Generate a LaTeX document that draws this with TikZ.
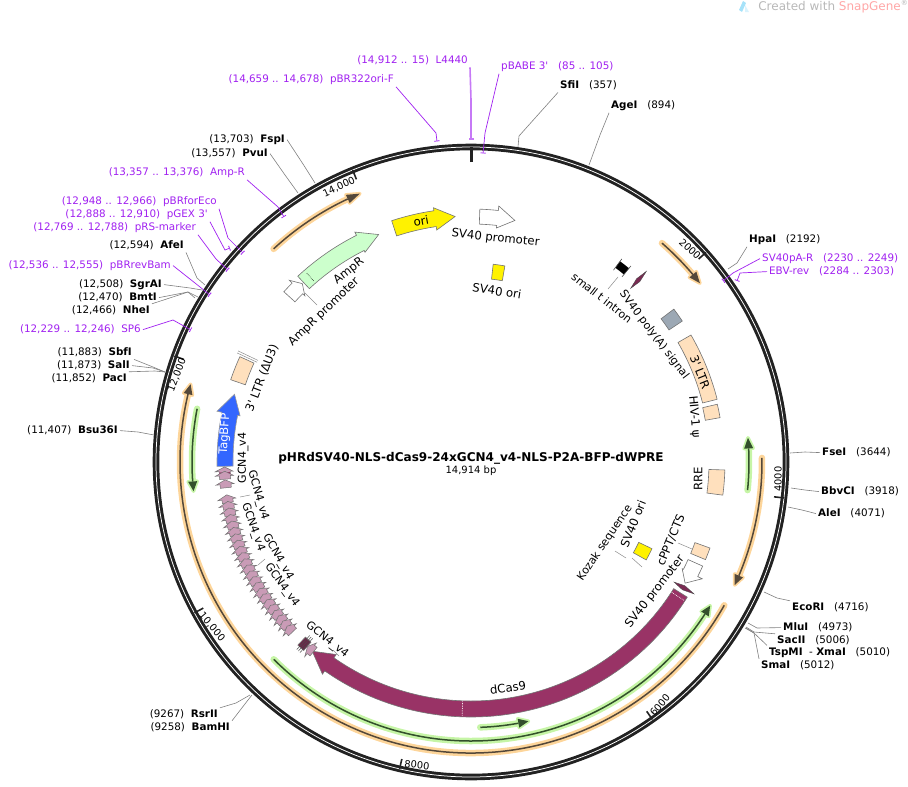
\documentclass[tikz,border=0pt]{standalone}
\usepackage{fontspec}
\setmainfont{DejaVu Sans}[Ligatures=TeXOff]
\usetikzlibrary{arrows.meta}
\definecolor{prm}{HTML}{A020F0}
\definecolor{dcas}{HTML}{993366}
\definecolor{mauve}{HTML}{C99BB6}
\definecolor{peach}{HTML}{FFE0BD}
\definecolor{grayb}{HTML}{9CA8B4}
\definecolor{glowO}{HTML}{FDD59A}
\definecolor{glowG}{HTML}{C6F5A6}
\definecolor{lineO}{HTML}{54483A}
\definecolor{lineG}{HTML}{33502C}
\definecolor{ringc}{HTML}{222222}
\tikzset{
  lab/.style={inner sep=2pt,yshift=-.6pt,font=\fontsize{10.35}{12}\selectfont},
  enz/.style={draw=black!50,line width=.6pt},
  enz-text/.style={text=black},
  prim/.style={draw=prm,line width=.7pt,-{Bar[width=5pt,length=1pt]}},
  prim-text/.style={text=prm},
  primL/.style={draw=prm!60,line width=1.6pt,-{Bar[width=5pt,length=1pt]}},
  primL-text/.style={text=prm},
  flab/.style={inner sep=0pt,font=\fontsize{11.7}{13}\selectfont},
  flabs/.style={inner sep=0pt,font=\fontsize{11}{13}\selectfont},
  tlab/.style={inner sep=0pt,font=\fontsize{9.8}{11}\selectfont},
  feat/.style={draw=black!55,line width=.6pt},
  thinl/.style={draw=black!45,line width=.5pt},
  ticks/.style={draw=ringc,line width=1.6pt}
}
% arrow feature: a1 a2 ahead rin rout wingin wingout style
\newcommand\fArrow[8]{\draw[feat,#8] (#1-90:#4) arc[start angle={#1-90},end angle={#3-90},radius=#4] -- (#3-90:#6) -- (#2-90:{(#4+#5)/2}) -- (#3-90:#7) -- (#3-90:#5) arc[start angle={#3-90},end angle={#1-90},radius=#5] -- cycle;}
% box feature: a1 a2 rin rout style
\newcommand\fBox[5]{\draw[feat,#5] (#1-90:#3) arc[start angle={#1-90},end angle={#2-90},radius=#3] -- (#2-90:#4) arc[start angle={#2-90},end angle={#1-90},radius=#4] -- cycle;}
% lens sliver: angle halfwidth
\newcommand\fLens[2]{\draw[draw=black!70,line width=.4pt,fill=dcas!80!black] (#1-90:236) -- (#1-#2-90:247) -- (#1-90:259) -- (#1+#2-90:247) -- cycle;}
% glowing ORF: a1 a2 aHead r glow line
\newcommand\gArc[6]{%
  \draw[#5,line width=6.5pt,line cap=round] (#1-90:#4) arc[start angle={#1-90},end angle={#3-90},radius=#4];
  \draw[#5,fill=#5,line width=3.5pt,line join=round] (#3-90:#4-4.5) -- (#2-90:#4) -- (#3-90:#4+4.5) -- cycle;
  \draw[#6,line width=1.5pt] (#1-90:#4) arc[start angle={#1-90},end angle={#3-90},radius=#4];
  \fill[#6] (#3-90:#4-4.5) -- (#2-90:#4) -- (#3-90:#4+4.5) -- cycle;}
% label with leader
\newcommand\Lab[8]{%
  \node[lab,anchor=#2,#5-text] (#1) at (#3) {#4};
  \coordinate (#1-k) at (#7);
  \coordinate (#1-e) at (#8);
  \draw[#5] (#1.#6) -- (#1-k) -- (#1-e);}
\newcommand\gcn[1]{\pgfmathsetmacro\ga{#1-1.0}\pgfmathsetmacro\gb{#1+.85}\pgfmathsetmacro\gc{#1-.2}\fArrow{\ga}{\gb}{\gc}{241}{252}{238}{256}{fill=mauve,line width=.5pt}}
\newcommand\spa{\hspace{.64em}}
\newcommand\spb{\hspace{.95em}}
\begin{document}
\begin{tikzpicture}[x=1pt,y=-1pt]
\useasboundingbox (0,0) rectangle (908,787);
% watermark
\fill[cyan!35] (739,10) -- (743,1) -- (746,3) -- (742,12) -- cycle;
\fill[cyan!15] (745,5) -- (749,12) -- (745,12) -- cycle;
\node[anchor=east,inner sep=0pt,text=black!28,font=\fontsize{12}{14}\selectfont] (wm) at (908,7) {Created with \textcolor{red!35}{SnapGene}\raisebox{.45em}{\fontsize{7}{8}\selectfont ®}};
\begin{scope}[shift={(471,462)}]
% ORFs
\gArc{317.2}{337.5}{334.9}{290.5}{glowO}{lineO}
\gArc{41.1}{52}{49.8}{290.5}{glowO}{lineO}
\gArc{89.2}{115}{113}{291}{glowO}{lineO}
\gArc{119.5}{285.5}{283.5}{291}{glowO}{lineO}
\gArc{95.8}{85}{87.2}{278}{glowG}{lineG}
\gArc{225}{121}{123}{279}{glowG}{lineG}
\gArc{178}{167.5}{169.7}{265.5}{glowG}{lineG}
\gArc{281}{264}{266}{279}{glowG}{lineG}
% backbone
\draw[draw=ringc,line width=6.6pt] (0,0) circle[radius=315];
\draw[draw=white,line width=.75pt] (0,0) circle[radius=315];
% ticks
\draw[draw=ringc,line width=3pt] (-90:300) -- (-90:315);
\foreach \t in {2000,4000,6000,8000,10000,12000,14000}{
  \pgfmathsetmacro\ta{\t/14914*360}
  \draw[ticks] (\ta-90:305) -- (\ta-90:315);}
% features
\fArrow{122}{220}{215}{239}{255}{235}{259}{fill=dcas}
\draw[white,densely dotted,line width=.7pt] (182-90:239.5) -- (182-90:254.5);
\draw[white,densely dotted,line width=.7pt] (123-90:239.5) -- (123-90:254.5);
\fArrow{269}{286}{281.3}{238}{254}{235.5}{259}{draw=black!40,fill={rgb,255:red,51;green,102;blue,255}}
\fArrow{317}{337.9}{333.2}{237}{254}{235}{257.6}{fill={rgb,255:red,204;green,255;blue,204}}
\draw[black,densely dotted,line width=.6pt] (319-90:240) -- (319-90:251);
\fArrow{312.3}{316.6}{315}{238}{253}{235}{257}{fill=white}
\fArrow{341.8}{356.3}{351.6}{238}{254}{234.5}{257}{fill=yellow}
\fArrow{2}{10.3}{6.2}{238}{253}{235.4}{257.5}{fill=white}
\fBox{6.4}{9.8}{184}{199}{fill=yellow}
\fBox{115.6}{119.2}{186}{200.7}{fill=yellow}
\fBox{53}{56.3}{238}{254}{fill=grayb}
\fBox{60}{75.7}{239}{254}{fill=peach}
\fBox{76.8}{79.9}{238}{253}{fill=peach}
\fBox{91.8}{97.5}{238}{254}{fill=peach}
\fBox{109.8}{112.6}{238}{254}{fill=peach}
\fArrow{114.2}{119.5}{116.8}{238}{254}{236.6}{259}{fill=white}
\fBox{288.9}{294.5}{238.5}{254}{fill=peach}
\draw[thinl] (295-90:236) -- (295-90:258);
\draw[thinl] (295.5-90:236) -- (295.5-90:258);
% small t intron
\fill[black] (36.6-90:242) arc[start angle=-53.4,end angle=-50.8,radius=242] -- (39.2-90:250) arc[start angle=-50.8,end angle=-53.4,radius=250] -- cycle;
\draw[black!70,line width=.6pt] (36.6-90:239) -- (36.6-90:253);
\draw[black!70,line width=.6pt] (39.2-90:239) -- (39.2-90:253);
% slivers
\fLens{42.6}{.5}
\fLens{120.6}{.55}
% GCN4 repeats
\gcn{268}
\fBox{267}{267.6}{241}{252}{fill=dcas,draw=none}
\gcn{267}
\gcn{265}
\foreach \g in {261.5,259.95,...,226}{\gcn{\g}}
\fBox{221.6}{223.4}{241}{252}{fill=dcas!70!black}
\foreach \g in {221.9,222.4,222.9}{\draw[black!70,line width=.5pt] (\g-90:237) -- (\g-90:256);}
\gcn{220.7}
\end{scope}
% leaders of internal labels
\coordinate (iA) at (618,277); \coordinate (iB) at (608,289);
\draw[thinl] (iA) -- (iB);
\coordinate (iC) at (305,293); \coordinate (iD) at (317,305);
\draw[thinl] (iC) -- (iD);
\coordinate (iE) at (678,543); \coordinate (iF) at (692,549);
\draw[thinl] (iE) -- (iF);
\coordinate (iG) at (615,551); \coordinate (iH) at (626,558);
\draw[thinl] (iG) -- (iH);
\coordinate (iI) at (632,558); \coordinate (iJ) at (642,567);
\draw[thinl] (iI) -- (iJ);
\coordinate (iK) at (240,497); \coordinate (iL) at (250,495);
\draw[thinl] (iK) -- (iL);
\coordinate (iM) at (258,565); \coordinate (iN) at (265,559);
\draw[thinl] (iM) -- (iN);
\coordinate (iO) at (333,650); \coordinate (iP) at (339,656);
\draw[thinl] (iO) -- (iP);
% feature labels
\node[flab,rotate=10] (tOri) at (421,221) {ori};
\node[flab,rotate=-6] (tP1) at (495.5,238.5) {SV40 promoter};
\node[flab,rotate=-9] (tO1) at (497,291) {SV40 ori};
\node[flab,rotate=38] (tAmpR) at (349,271) {AmpR};
\node[flab,rotate=44] (tAmpP) at (324,312) {AmpR promoter};
\node[flab,rotate=69] (tLTR3) at (262,378) {3' LTR (ΔU3)};
\node[flab,rotate=87,text=white] (tBFP) at (225,434) {TagBFP};
\node[flabs,rotate=90] (g1) at (243,458) {GCN4\_v4};
\node[flabs,rotate=-74] (g2) at (258,495) {GCN4\_v4};
\node[flabs,rotate=-71] (g3) at (253,527) {GCN4\_v4};
\node[flabs,rotate=-60] (g4) at (278,557) {GCN4\_v4};
\node[flabs,rotate=-54] (g5) at (282,585) {GCN4\_v4};
\node[flabs,rotate=-38] (g6) at (327,640) {GCN4\_v4};
\node[flab,rotate=8] (tCas) at (508,688) {dCas9};
\node[flabs,rotate=-38] (tInt) at (602,298) {small t intron};
\node[flabs,rotate=-53] (tPoly) at (654,335) {SV40 poly(A) signal};
\node[flab,rotate=-68] (tLTR) at (700,372) {3' LTR};
\node[flab,rotate=-85] (tHIV) at (694,417) {HIV-1 ψ};
\node[flab,rotate=90] (tRRE) at (698,479) {RRE};
\node[flab,rotate=67] (tCP) at (671,540) {cPPT/CTS};
\node[flab,rotate=52] (tP2) at (655,592) {SV40 promoter};
\node[flab,rotate=68] (tO2) at (633,524) {SV40 ori};
\node[flabs,rotate=56] (tKoz) at (605,543) {Kozak sequence};
% tick labels
\node[tlab,rotate=-43] (n2) at (690,249) {2000};
\node[tlab,rotate=90] (n4) at (778,479) {4000};
\node[tlab,rotate=50] (n6) at (660,705) {6000};
\node[tlab,rotate=-6] (n8) at (417,765) {8000};
\node[tlab,rotate=-50] (n10) at (212,627) {10,000};
\node[tlab,rotate=69] (n12) at (177,375) {12,000};
\node[tlab,rotate=25] (n14) at (339,187) {14,000};
% title
\node[inner sep=0pt,font=\fontsize{12.05}{14}\selectfont\bfseries] (title) at (471,458) {pHRdSV40-NLS-dCas9-24xGCN4\_v4-NLS-P2A-BFP-dWPRE};
\node[inner sep=0pt,font=\fontsize{10}{12}\selectfont] (bp) at (471,471) {14,914 bp};
% outer labels
\Lab{L4440}{east}{470,60}{(14,912 .. 15)\spa L4440}{primL}{south east}{471,100}{471,140}
\Lab{pBR}{east}{396,79}{(14,659 .. 14,678)\spa pBR322ori-F}{prim}{south east}{436,133}{437,141.5}
\Lab{pBABE}{west}{499,66}{pBABE 3'\spb(85 .. 105)}{prim}{south west}{485,133}{483,153.5}
\Lab{SfiI}{west}{558,85}{\textbf{SfiI}\spb(357)}{enz}{south west}{519,136}{518,147}
\Lab{AgeI}{west}{609,105}{\textbf{AgeI}\spb(894)}{enz}{south west}{600,135}{589,165}
\Lab{HpaI}{west}{747,239}{\textbf{HpaI}\spb(2192)}{enz}{south west}{737,263}{728,269}
\Lab{SVpA}{west}{760,258}{SV40pA-R\spb(2230 .. 2249)}{prim}{west}{733,273}{723,281}
\Lab{EBV}{west}{767,271}{EBV-rev\spb(2284 .. 2303)}{prim}{west}{740,273}{737,281}
\Lab{FseI}{west}{820,452}{\textbf{FseI}\spb(3644)}{enz}{west}{805,452}{790,453}
\Lab{BbvCI}{west}{819,491}{\textbf{BbvCI}\spb(3918)}{enz}{west}{805,490}{791,488}
\Lab{AleI}{west}{816,513}{\textbf{AleI}\spb(4071)}{enz}{west}{802,510}{788,507}
\Lab{EcoRI}{west}{790,607}{\textbf{EcoRI}\spb(4716)}{enz}{north west}{777,598}{764,592}
\Lab{MluI}{west}{781,627}{\textbf{MluI}\spb(4973)}{enz}{west}{757,628}{748,623}
\Lab{SacII}{west}{775,640}{\textbf{SacII}\spb(5006)}{enz}{north west}{754,632}{746,627}
\Lab{Tsp}{west}{767,652}{\textbf{TspMI}\spa- \textbf{XmaI}\spb(5010)}{enz}{north west}{754,633}{746,628}
\Lab{SmaI}{west}{759,665}{\textbf{SmaI}\spb(5012)}{enz}{north west}{754,633}{745,628}
\Lab{Rsr}{east}{220,714}{(9267)\spa\textbf{RsrII}}{enz}{north east}{236,703}{250,695}
\Lab{Bam}{east}{232,727}{(9258)\spa\textbf{BamHI}}{enz}{north east}{248,700}{252,695}
\Lab{Bsu}{east}{120,430}{(11,407)\spa\textbf{Bsu36I}}{enz}{east}{138,432}{154,435}
\Lab{Sbf}{east}{134,352}{(11,883)\spa\textbf{SbfI}}{enz}{south east}{153,367}{165,372}
\Lab{Sal}{east}{132,365}{(11,873)\spa\textbf{SalI}}{enz}{east}{153,368}{165,372}
\Lab{Pac}{east}{129,378}{(11,852)\spa\textbf{PacI}}{enz}{north east}{155,371}{165,372}
\Lab{SP6}{east}{143,329}{(12,229 .. 12,246)\spa SP6}{prim}{east}{173,320}{191,330}
\Lab{Nhe}{east}{152,310}{(12,466)\spa\textbf{NheI}}{enz}{north east}{188,292}{195,298}
\Lab{Bmt}{east}{159,297}{(12,470)\spa\textbf{BmtI}}{enz}{east}{188,292}{198,297}
\Lab{Sgr}{east}{164,284}{(12,508)\spa\textbf{SgrAI}}{enz}{east}{190,288}{202,290}
\Lab{revB}{east}{173,265}{(12,536 .. 12,555)\spa pBRrevBam}{prim}{east}{195,283}{210,295}
\Lab{Afe}{east}{186,245}{(12,594)\spa\textbf{AfeI}}{enz}{south east}{197,278}{205,285}
\Lab{pRS}{east}{198,227}{(12,769 .. 12,788)\spa pRS-marker}{prim}{south east}{216,259}{228,270}
\Lab{pGEX}{east}{210,214}{(12,888 .. 12,910)\spa pGEX 3'}{prim}{south east}{225,250}{230,248}
\Lab{forE}{east}{219,201}{(12,948 .. 12,966)\spa pBRforEco}{prim}{south east}{228,238}{243,253}
\Lab{AmpRp}{east}{247,172}{(13,357 .. 13,376)\spa Amp-R}{prim}{south east}{278,207}{284,217}
\Lab{Pvu}{east}{270,153}{(13,557)\spa\textbf{PvuI}}{enz}{east}{285,175}{298,193}
\Lab{Fsp}{east}{287,139}{(13,703)\spa\textbf{FspI}}{enz}{east}{303,164}{315,183}
\end{tikzpicture}
\end{document}
